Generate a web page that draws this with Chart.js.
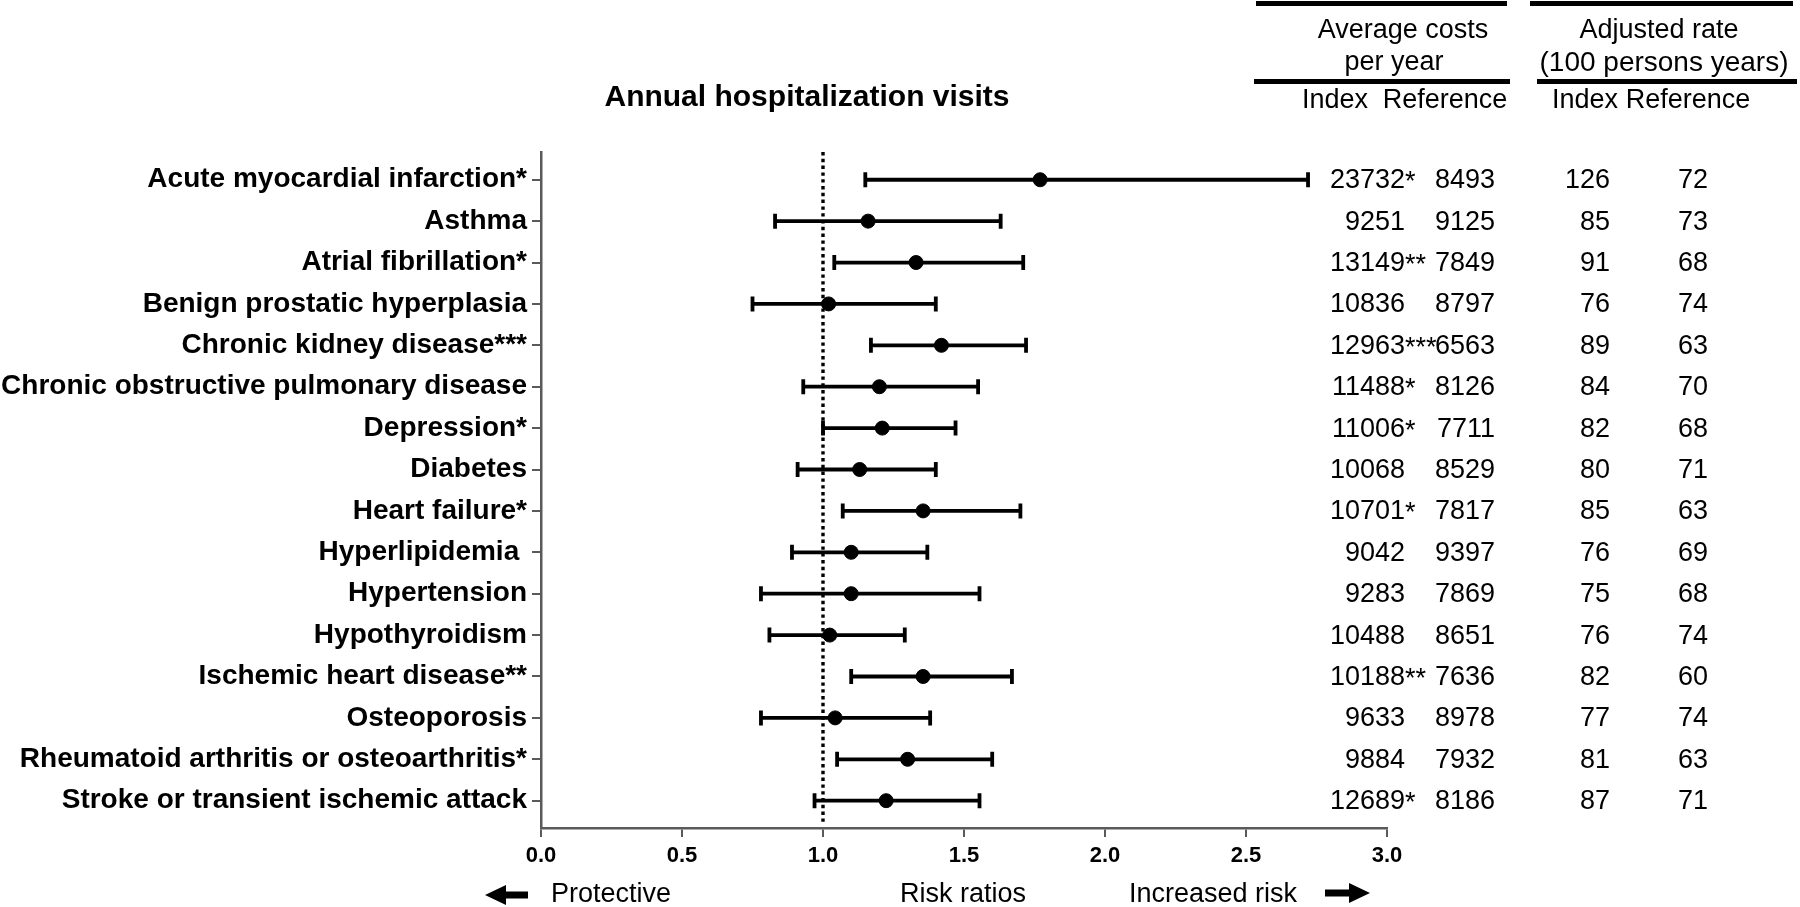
<!DOCTYPE html>
<html>
<head>
<meta charset="utf-8">
<title>Annual hospitalization visits</title>
<script src="https://cdn.jsdelivr.net/npm/chart.js@4.4.1/dist/chart.umd.min.js"></script>
<style>
  html, body { margin: 0; padding: 0; background: #fff; }
  #wrap { width: 1800px; height: 907px; }
</style>
</head>
<body>
<div id="wrap"><canvas id="forest" width="1800" height="907"></canvas></div>
<script>
// Conditions, top to bottom
const conditions = [
    'Acute myocardial infarction*',
    'Asthma',
    'Atrial fibrillation*',
    'Benign prostatic hyperplasia',
    'Chronic kidney disease***',
    'Chronic obstructive pulmonary disease',
    'Depression*',
    'Diabetes',
    'Heart failure*',
    'Hyperlipidemia ',
    'Hypertension',
    'Hypothyroidism',
    'Ischemic heart disease**',
    'Osteoporosis',
    'Rheumatoid arthritis or osteoarthritis*',
    'Stroke or transient ischemic attack'
];

// Risk ratios with 95% CI
const riskRatio = [1.77, 1.16, 1.33, 1.02, 1.42, 1.20, 1.21, 1.13, 1.355, 1.10, 1.10, 1.024, 1.355, 1.043, 1.30, 1.224];
const ciLow     = [1.15, 0.83, 1.04, 0.75, 1.17, 0.93, 1.00, 0.91, 1.07, 0.89, 0.78, 0.81, 1.10, 0.78, 1.05, 0.97];
const ciHigh    = [2.72, 1.63, 1.71, 1.40, 1.72, 1.55, 1.47, 1.40, 1.70, 1.37, 1.555, 1.29, 1.67, 1.38, 1.60, 1.555];

// Average costs per year
const costIndex = ['23732*', '9251', '13149**', '10836', '12963***', '11488*', '11006*', '10068',
                   '10701*', '9042', '9283', '10488', '10188**', '9633', '9884', '12689*'];
const costRef   = [8493, 9125, 7849, 8797, 6563, 8126, 7711, 8529, 7817, 9397, 7869, 8651, 7636, 8978, 7932, 8186];

// Adjusted rate (100 persons years)
const rateIndex = [126, 85, 91, 76, 89, 84, 82, 80, 85, 76, 75, 76, 82, 77, 81, 87];
const rateRef   = [72, 73, 68, 74, 63, 70, 68, 71, 63, 69, 68, 74, 60, 74, 63, 71];

const xTicks = [0, 0.5, 1, 1.5, 2, 2.5, 3];

const FONT = "'Liberation Sans', Arial, Helvetica, sans-serif";
const AXIS_GREY = '#5a5a5a';

// CI whiskers + dotted null line at RR = 1
const errorBars = {
    id: 'errorBars',
    beforeDatasetsDraw(chart) {
        const { ctx, chartArea } = chart;
        const xs = chart.scales.x, ys = chart.scales.y;

        // reference line
        ctx.save();
        ctx.strokeStyle = '#000';
        ctx.lineWidth = 3.4;
        ctx.setLineDash([3.4, 3.4]);
        const x1 = xs.getPixelForValue(1);
        ctx.beginPath();
        ctx.moveTo(x1, chartArea.top);
        ctx.lineTo(x1, chartArea.bottom - 6);
        ctx.stroke();
        ctx.restore();

        ctx.save();
        ctx.strokeStyle = '#000';
        ctx.lineWidth = 3.8;
        for (let i = 0; i < conditions.length; i++) {
            const y = ys.getPixelForValue(i);
            const lo = xs.getPixelForValue(ciLow[i]);
            const hi = xs.getPixelForValue(ciHigh[i]);
            ctx.beginPath();
            ctx.moveTo(lo, y);
            ctx.lineTo(hi, y);
            ctx.moveTo(lo, y - 7.5);
            ctx.lineTo(lo, y + 7.5);
            ctx.moveTo(hi, y - 7.5);
            ctx.lineTo(hi, y + 7.5);
            ctx.stroke();
        }
        ctx.restore();
    }
};

function arrow(ctx, xTail, xTip, y) {
    const dir = Math.sign(xTip - xTail);
    const headLen = 21;
    ctx.beginPath();
    ctx.moveTo(xTail, y - 3.5);
    ctx.lineTo(xTip - dir * headLen, y - 3.5);
    ctx.lineTo(xTip - dir * headLen, y - 10);
    ctx.lineTo(xTip, y);
    ctx.lineTo(xTip - dir * headLen, y + 10);
    ctx.lineTo(xTip - dir * headLen, y + 3.5);
    ctx.lineTo(xTail, y + 3.5);
    ctx.closePath();
    ctx.fill();
}

// Title, side table and axis captions
const tableText = {
    id: 'tableText',
    afterDraw(chart) {
        const { ctx } = chart;
        const ys = chart.scales.y;
        ctx.save();
        ctx.fillStyle = '#000';
        ctx.textBaseline = 'middle';

        ctx.font = `bold 30px ${FONT}`;
        ctx.textAlign = 'center';
        ctx.fillText('Annual hospitalization visits', 807, 98);

        // header rules
        ctx.fillRect(1256, 1, 251, 5);
        ctx.fillRect(1530, 1, 263, 5);
        ctx.fillRect(1254, 79, 256, 5);
        ctx.fillRect(1537, 79, 260, 5);

        ctx.font = `27px ${FONT}`;
        ctx.fillText('Average costs', 1403, 31);
        ctx.fillText('per year', 1394, 63);
        ctx.fillText('Index', 1335, 101);
        ctx.fillText('Reference', 1445, 101);
        ctx.fillText('Adjusted rate', 1659, 31);
        ctx.font = `28px ${FONT}`;
        ctx.fillText('(100 persons years)', 1664, 63);
        ctx.font = `27px ${FONT}`;
        ctx.fillText('Index', 1585, 101);
        ctx.fillText('Reference', 1688, 101);

        for (let i = 0; i < conditions.length; i++) {
            const y = ys.getPixelForValue(i) + 1;
            const num = costIndex[i].replace(/\*+$/, '');
            const stars = costIndex[i].slice(num.length);
            ctx.textAlign = 'right';
            ctx.fillText(num, 1405, y);
            ctx.fillText(String(costRef[i]), 1495, y);
            ctx.fillText(String(rateIndex[i]), 1610, y);
            ctx.fillText(String(rateRef[i]), 1708, y);
            if (stars) {
                ctx.textAlign = 'left';
                ctx.fillText(stars, 1405, y + 2);
            }
        }

        // footer captions
        ctx.textAlign = 'left';
        ctx.fillText('Protective', 551, 895);
        ctx.fillText('Risk ratios', 900, 895);
        ctx.fillText('Increased risk', 1129, 895);
        arrow(ctx, 528, 485, 895);
        arrow(ctx, 1325, 1370, 893);
        ctx.restore();
    }
};

new Chart(document.getElementById('forest'), {
    type: 'scatter',
    data: {
        datasets: [{
            label: 'Risk ratio',
            data: riskRatio.map((v, i) => ({ x: v, y: i })),
            backgroundColor: '#000',
            borderColor: '#000',
            pointRadius: 7,
            pointHoverRadius: 7
        }]
    },
    options: {
        responsive: false,
        animation: false,
        devicePixelRatio: 1,
        layout: { padding: { left: 0, right: 413, top: 152, bottom: 0 } },
        plugins: {
            legend: { display: false },
            tooltip: { enabled: false },
            title: { display: false }
        },
        scales: {
            x: {
                type: 'linear',
                min: 0,
                max: 3,
                afterFit: s => { s.height = 79; },
                afterBuildTicks: s => { s.ticks = xTicks.map(v => ({ value: v })); },
                border: { color: AXIS_GREY, width: 2.5 },
                grid: { drawOnChartArea: false, color: AXIS_GREY, lineWidth: 2, tickLength: 9 },
                ticks: {
                    color: '#000',
                    font: { family: FONT, size: 22, weight: 'bold' },
                    padding: 6,
                    callback: v => v.toFixed(1)
                }
            },
            y: {
                type: 'linear',
                reverse: true,
                min: -0.67,
                max: 15.66,
                afterFit: s => { s.width = 541; },
                afterBuildTicks: s => { s.ticks = conditions.map((c, i) => ({ value: i })); },
                border: { color: AXIS_GREY, width: 2.5 },
                grid: { drawOnChartArea: false, color: AXIS_GREY, lineWidth: 2, tickLength: 9 },
                ticks: {
                    color: '#000',
                    font: { family: FONT, size: 28, weight: 'bold' },
                    padding: 5,
                    callback: v => conditions[v]
                }
            }
        }
    },
    plugins: [errorBars, tableText]
});
</script>
</body>
</html>
